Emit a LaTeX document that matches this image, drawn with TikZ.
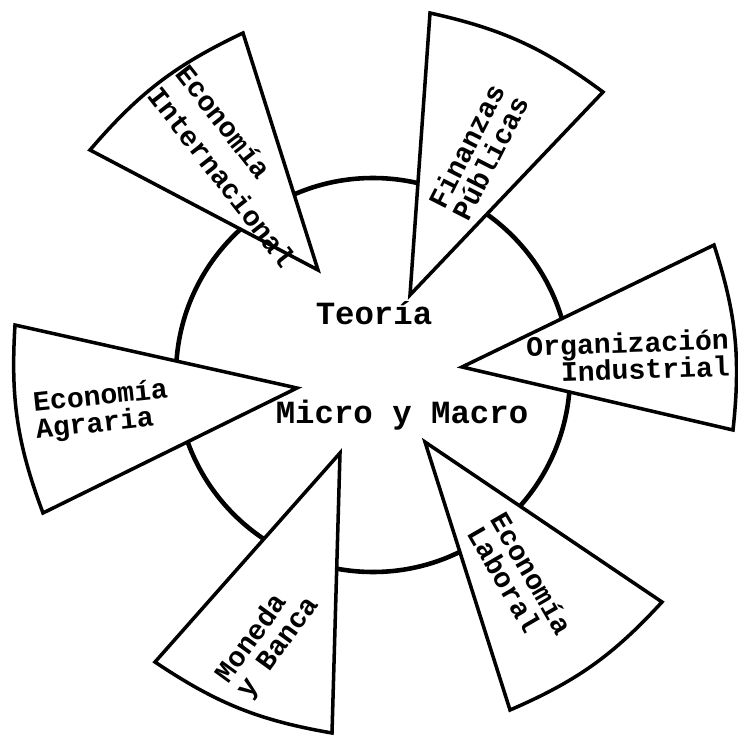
\documentclass[tikz,border=0pt]{standalone}
\usepackage{fontspec}
\setmonofont{Liberation Mono}
\usetikzlibrary{calc}

\tikzset{
  ring/.style={draw, line width=1.3pt},
  wedge/.style={draw, line width=1pt, fill=white, line join=miter},
  field/.style={font=\ttfamily\bfseries\fontsize{8}{7.6}\selectfont, inner sep=0pt},
  hub/.style={font=\ttfamily\bfseries\fontsize{9.2}{10}\selectfont, inner sep=0pt},
}

\begin{document}
\begin{tikzpicture}[x=0.01cm, y=-0.01cm]
  \useasboundingbox (0,0) rectangle (737,737);

  % central circle
  \coordinate (core) at (373,375);
  \draw[ring] (core) circle[radius=197];

  % wedge corners: tip, then the two outer corners (clockwise)
  \coordinate (ei-tip) at (318,270);
  \coordinate (ei-a)   at (90,150);
  \coordinate (ei-b)   at (243,33);
  \coordinate (fp-tip) at (410,295);
  \coordinate (fp-a)   at (430,13);
  \coordinate (fp-b)   at (603,92);
  \coordinate (oi-tip) at (462,367);
  \coordinate (oi-a)   at (714,245);
  \coordinate (oi-b)   at (733,430);
  \coordinate (el-tip) at (425,442);
  \coordinate (el-a)   at (662,602);
  \coordinate (el-b)   at (510,710);
  \coordinate (mb-tip) at (340,453);
  \coordinate (mb-a)   at (332,733);
  \coordinate (mb-b)   at (155,662);
  \coordinate (ea-tip) at (297,388);
  \coordinate (ea-a)   at (43,513);
  \coordinate (ea-b)   at (15,325);

  \foreach \w in {ei,fp,oi,el,mb,ea}
    \draw[wedge] (\w-tip) -- (\w-a) to[bend left=12] (\w-b) -- cycle;

  % labels
  \node[field, align=left, rotate=-52] (ei-txt) at (236,166)
    {Economía\\[2.5pt]Internacional};
  \node[field, align=left, rotate=63] (fp-txt) at (478,152)
    {Finanzas\\Públicas};
  \node[field, align=right, rotate=2] (oi-txt) at (628,356)
    {Organización\\Industrial};
  \node[field, align=left, rotate=-60] (el-txt) at (520,580)
    {Economía\\Laboral};
  \node[field, align=left, rotate=54] (mb-txt) at (268,640)
    {Moneda\\y Banca};
  \node[field, align=left, rotate=6] (ea-txt) at (102,411)
    {Economía\\Agraria};

  \node[hub] (teoria) at (374,313) {Teoría};
  \node[hub] (micro) at (402,415) {Micro y Macro};
\end{tikzpicture}
\end{document}
